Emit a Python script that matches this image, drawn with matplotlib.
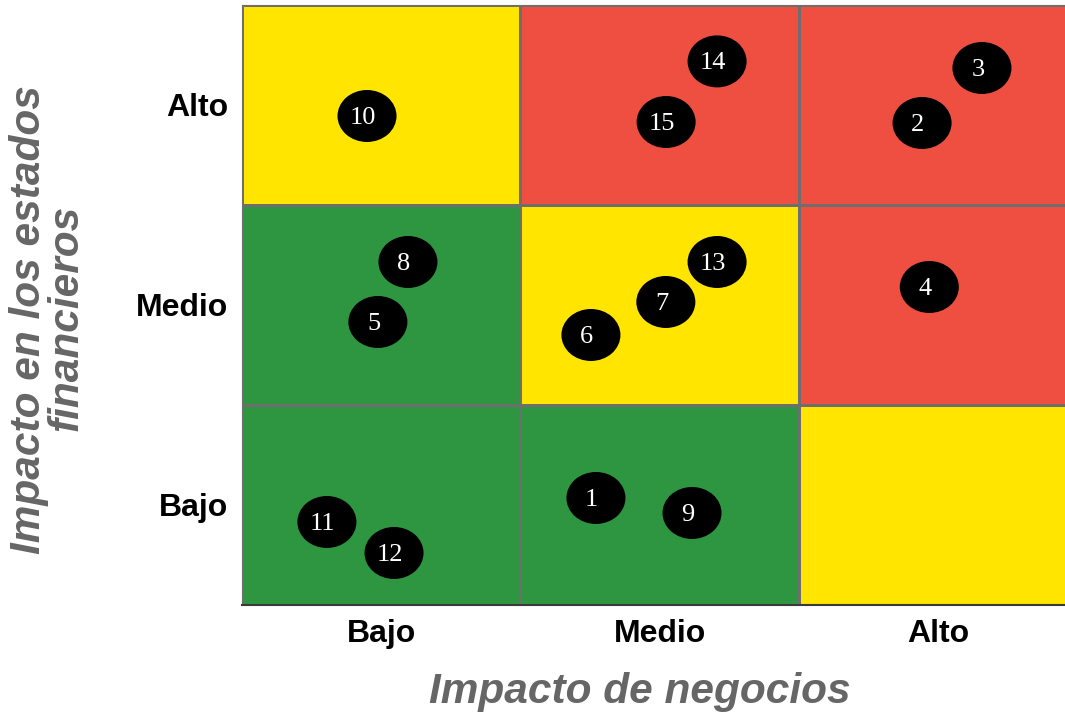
import matplotlib
matplotlib.use("Agg")
import matplotlib.pyplot as plt
from matplotlib.colors import ListedColormap
from matplotlib.patches import Ellipse
import numpy as np

# Impact levels shown on both axes
levels = ["Bajo", "Medio", "Alto"]

# Risk zone of each cell: rows = financial impact (Bajo..Alto), cols = business impact
# 0 = low (green), 1 = moderate (yellow), 2 = high (red)
zone = [
    [0, 0, 1],
    [0, 1, 2],
    [1, 2, 2],
]
zone_colors = ["#2E9640", "#FFE500", "#EF4F40"]

# Risk identifiers and their placement (business impact, financial impact)
risk_ids = [1, 2, 3, 4, 5, 6, 7, 8, 9, 10, 11, 12, 13, 14, 15]
business = [1.271, 2.442, 2.657, 2.468, 0.488, 1.253, 1.522, 0.596, 1.616,
            0.449, 0.305, 0.546, 1.706, 1.706, 1.523]
financial = [0.535, 2.41, 2.685, 1.59, 1.415, 1.35, 1.515, 1.715, 0.46,
             2.445, 0.415, 0.26, 1.715, 2.718, 2.415]

fig = plt.figure(figsize=(10.65, 7.14), dpi=100)
ax = fig.add_axes([0.2272, 0.1527, 0.7845, 0.8403])

edges = np.arange(len(levels) + 1)
ax.pcolormesh(edges, edges, np.array(zone), cmap=ListedColormap(zone_colors),
              vmin=-0.5, vmax=2.5, edgecolors="#6E6E6E", linewidth=0.8)

for rid, bx, fy in zip(risk_ids, business, financial):
    ax.add_patch(Ellipse((bx, fy), width=0.212, height=0.26,
                         facecolor="black", edgecolor="none", zorder=3))
    ax.annotate(str(rid), (bx, fy), xytext=(-3, -1.5), textcoords="offset points",
                ha="center", va="center", color="white", fontsize=19,
                family="Liberation Serif", zorder=4)

ax.set_xlim(0, 3)
ax.set_ylim(0, 3)
centers = np.arange(len(levels)) + 0.5
ax.set_xticks(centers)
ax.set_xticklabels(levels)
ax.set_yticks(centers)
ax.set_yticklabels(levels)
ax.tick_params(length=0, labelsize=23, pad=10)
for lab in ax.get_xticklabels() + ax.get_yticklabels():
    lab.set_fontweight("bold")
    lab.set_family("Liberation Sans")

for side in ["left", "top"]:
    ax.spines[side].set_color("#6E6E6E")
    ax.spines[side].set_linewidth(0.8)
ax.spines["bottom"].set_color("#3A3A3A")
ax.spines["bottom"].set_linewidth(1.5)
ax.spines["right"].set_visible(False)

title_style = dict(color="#666666", fontsize=30.5, fontweight="bold",
                   fontstyle="italic", family="Liberation Sans")
fig.text(640 / 1065, 1 - 692 / 714, "Impacto de negocios",
         ha="center", va="center", **title_style)
fig.text(29 / 1065, 1 - 320 / 714, "Impacto en los estados",
         ha="center", va="center", rotation=90, **title_style)
fig.text(66 / 1065, 1 - 318 / 714, "financieros",
         ha="center", va="center", rotation=90, **title_style)

fig.savefig("out.png", dpi=100)
